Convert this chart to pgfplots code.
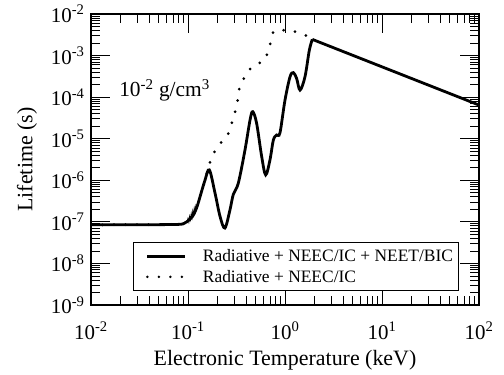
\documentclass[border=0pt]{standalone}
\usepackage{fontspec}
\setmainfont{Liberation Serif}
\usepackage{pgfplots}
\pgfplotsset{compat=1.18}
\begin{document}
\begin{tikzpicture}
\begin{axis}[
  scale only axis, width=388bp, height=291bp,
  xmode=log, ymode=log,
  xmin=0.01, xmax=100, ymin=1e-9, ymax=1e-2,
  axis line style={line width=1.4bp},
  tick align=inside,
  every tick/.style={black, line width=0.8bp},
  major tick length=19bp, minor tick length=9bp,
  xtick={0.01,0.1,1,10,100},
  xticklabels={10\textsuperscript{-2},10\textsuperscript{-1},10\textsuperscript{0},10\textsuperscript{1},10\textsuperscript{2}},
  minor xtick={0.02,0.03,0.04,0.05,0.06,0.07,0.08,0.09,0.2,0.3,0.4,0.5,0.6,0.7,0.8,0.9,2,3,4,5,6,7,8,9,20,30,40,50,60,70,80,90},
  ytick={1e-9,1e-8,1e-7,1e-6,1e-5,1e-4,1e-3,1e-2},
  yticklabels={10\textsuperscript{-9},10\textsuperscript{-8},10\textsuperscript{-7},10\textsuperscript{-6},10\textsuperscript{-5},10\textsuperscript{-4},10\textsuperscript{-3},10\textsuperscript{-2}},
  minor ytick={2e-9,3e-9,4e-9,5e-9,6e-9,7e-9,8e-9,9e-9,2e-8,3e-8,4e-8,5e-8,6e-8,7e-8,8e-8,9e-8,2e-7,3e-7,4e-7,5e-7,6e-7,7e-7,8e-7,9e-7,2e-6,3e-6,4e-6,5e-6,6e-6,7e-6,8e-6,9e-6,2e-5,3e-5,4e-5,5e-5,6e-5,7e-5,8e-5,9e-5,2e-4,3e-4,4e-4,5e-4,6e-4,7e-4,8e-4,9e-4,2e-3,3e-3,4e-3,5e-3,6e-3,7e-3,8e-3,9e-3},
  xticklabel style={font=\fontsize{21}{22}\selectfont, anchor=base, yshift=-34bp},
  yticklabel style={font=\fontsize{21}{22}\selectfont, anchor=east, xshift=-3bp},
  xlabel={Electronic Temperature (keV)},
  ylabel={Lifetime (s)},
  xlabel style={font=\fontsize{22}{24}\selectfont, at={(axis description cs:0.5,0)}, anchor=base, yshift=-60bp},
  ylabel style={font=\fontsize{22}{24}\selectfont, at={(axis description cs:-0.165,0.5)}, anchor=center},
  legend style={at={(rel axis cs:0.947,0.048)}, anchor=south east, draw=black, line width=0.8bp,
    font=\fontsize{17.5}{19}\selectfont, inner xsep=3bp, inner ysep=5bp, row sep=3bp,
    legend cell align=left},
  legend image code/.code={\path (-9bp,0bp) (52bp,0bp); \draw[#1, line width=2.8bp] (0bp,0bp) -- (38bp,0bp);},
]
\coordinate (sw) at (rel axis cs:0,0);
\coordinate (ne) at (rel axis cs:1,1);
\addplot[black, line width=2.8bp, smooth, tension=0.55] coordinates {
(0.01,8.5e-8) (0.03,8.5e-8) (0.06,8.6e-8) (0.08,8.7e-8) (0.0895,9.0e-8)
(0.097,1.0e-7) (0.103,1.12e-7) (0.108,1.25e-7) (0.1135,1.45e-7) (0.12,1.9e-7)
(0.126,2.6e-7) (0.133,4.0e-7) (0.1496,1.0e-6) (0.166,1.78e-6) (0.190,4.9e-7)
(0.214,1.35e-7) (0.240,7.1e-8) (0.271,1.95e-7) (0.293,4.57e-7) (0.330,8.5e-7)
(0.387,5.37e-6) (0.436,2.82e-5) (0.465,4.47e-5) (0.510,2.34e-5) (0.575,3.72e-6)
(0.632,1.35e-6) (0.700,3.09e-6) (0.759,9.33e-6) (0.820,1.23e-5) (0.887,1.38e-5)
(1.0,8.51e-5) (1.127,3.09e-4) (1.219,3.89e-4) (1.318,2.82e-4) (1.429,1.48e-4)
(1.607,3.09e-4) (1.782,1.35e-3) (1.914,2.45e-3)
};
\addlegendentry{Radiative + NEEC/IC + NEET/BIC}
\addplot[black, line width=3bp, line cap=round, dash pattern=on 0bp off 11.5bp] coordinates {
(0.01,8.5e-8) (0.06,8.6e-8) (0.08,8.7e-8) (0.0895,9.0e-8) (0.103,1.12e-7)
(0.1135,1.45e-7) (0.126,2.6e-7) (0.133,4.0e-7) (0.1496,1.0e-6)
(0.1687,2.71e-6) (0.1897,5.15e-6) (0.2223,8.47e-6) (0.2564,1.23e-5) (0.2667,1.48e-5)
(0.2825,2.35e-5) (0.2999,3.72e-5) (0.3177,5.89e-5) (0.3251,8.53e-5) (0.3381,1.63e-4)
(0.3776,2.84e-4) (0.4426,4.94e-4) (0.5309,6.52e-4) (0.5970,7.13e-4) (0.6471,1.03e-3)
(0.6730,1.24e-3) (0.7129,2.16e-3) (0.7568,3.75e-3) (0.9247,4.12e-3) (1.268,3.75e-3)
(1.607,3.13e-3) (1.914,2.45e-3)
};
\addlegendentry{Radiative + NEEC/IC}
\addplot[black, line width=2.8bp, forget plot] coordinates {
(1.914,2.45e-3) (100,6.46e-5)
};
\addplot[black, line width=0.9bp, forget plot] coordinates {
(0.098,1.0e-7) (0.1,1.2e-7) (0.102,1.0e-7) (0.104,1.35e-7) (0.106,1.12e-7)
(0.108,1.55e-7) (0.110,1.25e-7) (0.112,1.8e-7) (0.114,1.45e-7) (0.116,2.1e-7)
(0.118,1.7e-7) (0.121,2.5e-7) (0.124,2.2e-7) (0.127,3.2e-7)
};
\node[anchor=base west, font=\fontsize{21.5}{23}\selectfont] at (axis cs:0.018,1.02e-4)
  {10\textsuperscript{-2} g/cm\textsuperscript{3}};
\end{axis}
\pgfresetboundingbox
\path ([shift={(-91bp,-70bp)}]sw) rectangle ([shift={(25bp,14bp)}]ne);
\end{tikzpicture}
\end{document}
